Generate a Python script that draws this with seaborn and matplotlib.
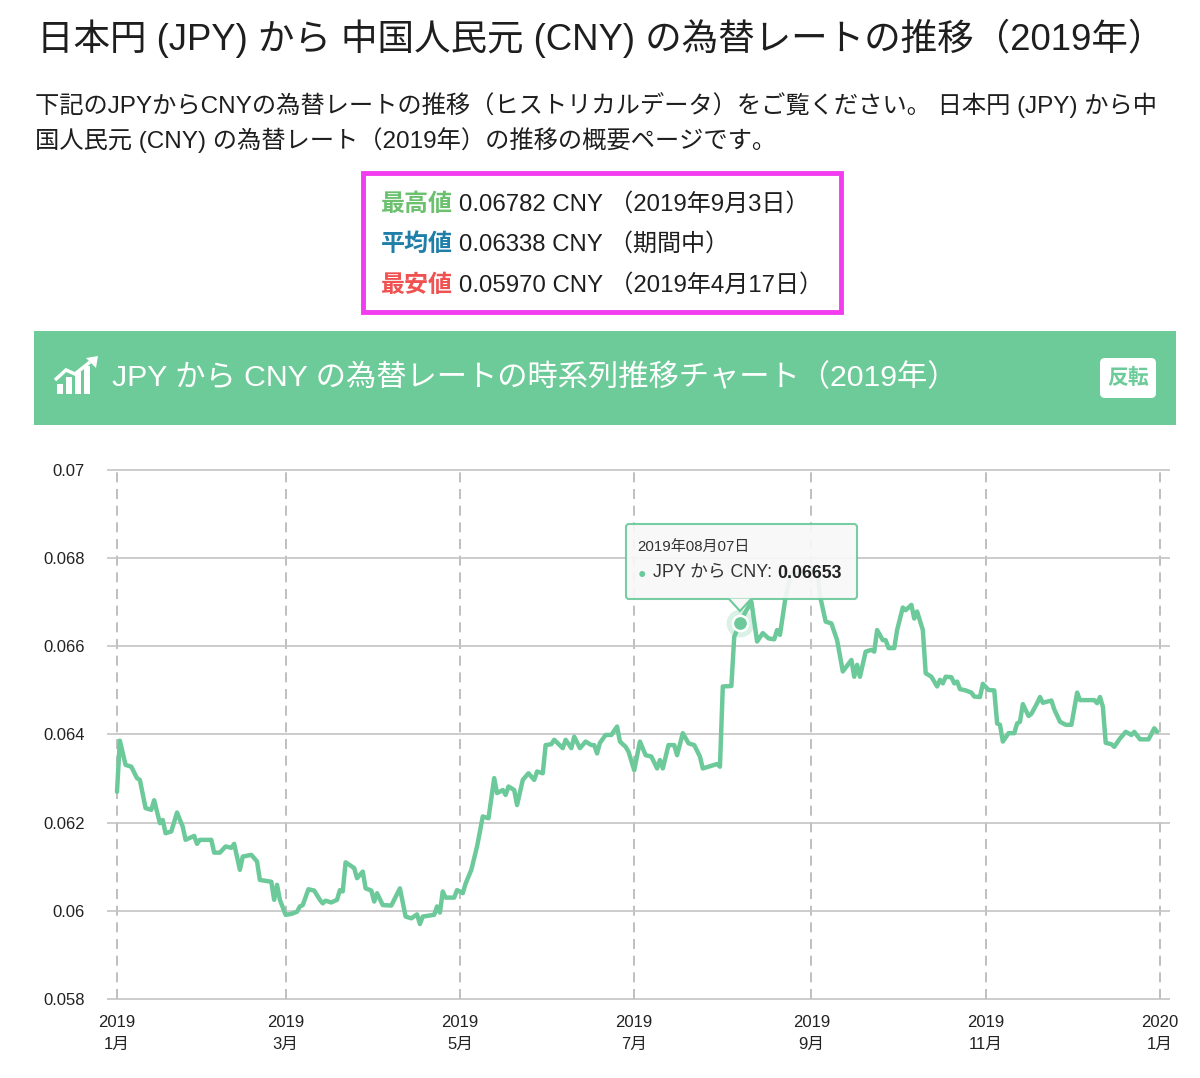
import numpy as np
import pandas as pd
import matplotlib
matplotlib.use("Agg")
import matplotlib.pyplot as plt
import seaborn as sns
from matplotlib.patches import FancyBboxPatch, Rectangle, Polygon
from matplotlib.transforms import Affine2D

# ---------------- data ----------------
dates = [
    "2019-01-01", "2019-01-02", "2019-01-04", "2019-01-06", "2019-01-08", "2019-01-09", "2019-01-11",
    "2019-01-13", "2019-01-14", "2019-01-16", "2019-01-17", "2019-01-18", "2019-01-20", "2019-01-22",
    "2019-01-24", "2019-01-25", "2019-01-28", "2019-01-29", "2019-01-30", "2019-02-03", "2019-02-04",
    "2019-02-06", "2019-02-08", "2019-02-10", "2019-02-11", "2019-02-13", "2019-02-14", "2019-02-17",
    "2019-02-19", "2019-02-20", "2019-02-24", "2019-02-25", "2019-02-26", "2019-02-27", "2019-03-01",
    "2019-03-03", "2019-03-05", "2019-03-06", "2019-03-07", "2019-03-09", "2019-03-11", "2019-03-13",
    "2019-03-14", "2019-03-15", "2019-03-17", "2019-03-19", "2019-03-20", "2019-03-21", "2019-03-22",
    "2019-03-25", "2019-03-26", "2019-03-28", "2019-03-29", "2019-03-31", "2019-04-01", "2019-04-02",
    "2019-04-04", "2019-04-07", "2019-04-10", "2019-04-12", "2019-04-14", "2019-04-16", "2019-04-17",
    "2019-04-18", "2019-04-22", "2019-04-23", "2019-04-24", "2019-04-25", "2019-04-26", "2019-04-29",
    "2019-04-30", "2019-05-02", "2019-05-03", "2019-05-05", "2019-05-07", "2019-05-09", "2019-05-11",
    "2019-05-13", "2019-05-14", "2019-05-16", "2019-05-17", "2019-05-18", "2019-05-20", "2019-05-21",
    "2019-05-23", "2019-05-25", "2019-05-27", "2019-05-28", "2019-05-30", "2019-05-31", "2019-06-02",
    "2019-06-03", "2019-06-06", "2019-06-07", "2019-06-09", "2019-06-10", "2019-06-12", "2019-06-14",
    "2019-06-16", "2019-06-17", "2019-06-18", "2019-06-19", "2019-06-21", "2019-06-23", "2019-06-25",
    "2019-06-26", "2019-06-28", "2019-06-29", "2019-07-01", "2019-07-03", "2019-07-05", "2019-07-07",
    "2019-07-09", "2019-07-10", "2019-07-11", "2019-07-13", "2019-07-15", "2019-07-16", "2019-07-18",
    "2019-07-20", "2019-07-22", "2019-07-24", "2019-07-25", "2019-07-28", "2019-07-30", "2019-07-31",
    "2019-08-01", "2019-08-04", "2019-08-05", "2019-08-07", "2019-08-09", "2019-08-11", "2019-08-13",
    "2019-08-15", "2019-08-17", "2019-08-19", "2019-08-20", "2019-08-21", "2019-08-23", "2019-08-25",
    "2019-08-28", "2019-08-30", "2019-09-03", "2019-09-04", "2019-09-06", "2019-09-08", "2019-09-10",
    "2019-09-12", "2019-09-15", "2019-09-16", "2019-09-17", "2019-09-18", "2019-09-20", "2019-09-22",
    "2019-09-23", "2019-09-24", "2019-09-26", "2019-09-27", "2019-09-28", "2019-09-30", "2019-10-01",
    "2019-10-03", "2019-10-04", "2019-10-06", "2019-10-07", "2019-10-08", "2019-10-10", "2019-10-11",
    "2019-10-13", "2019-10-15", "2019-10-16", "2019-10-17", "2019-10-18", "2019-10-20", "2019-10-21",
    "2019-10-22", "2019-10-23", "2019-10-25", "2019-10-27", "2019-10-28", "2019-10-30", "2019-10-31",
    "2019-11-02", "2019-11-04", "2019-11-05", "2019-11-06", "2019-11-07", "2019-11-09", "2019-11-11",
    "2019-11-12", "2019-11-13", "2019-11-14", "2019-11-16", "2019-11-17", "2019-11-19", "2019-11-20",
    "2019-11-21", "2019-11-24", "2019-11-25", "2019-11-27", "2019-11-29", "2019-12-01", "2019-12-03",
    "2019-12-04", "2019-12-06", "2019-12-09", "2019-12-10", "2019-12-11", "2019-12-12", "2019-12-13",
    "2019-12-15", "2019-12-16", "2019-12-18", "2019-12-20", "2019-12-22", "2019-12-23", "2019-12-25",
    "2019-12-28", "2019-12-30", "2019-12-31",
]
rates = [
    0.06270, 0.06386, 0.06331, 0.06327, 0.06301, 0.06297, 0.06233,
    0.06229, 0.06251, 0.06199, 0.06206, 0.06176, 0.06180, 0.06223,
    0.06191, 0.06161, 0.06170, 0.06152, 0.06161, 0.06161, 0.06132,
    0.06132, 0.06146, 0.06143, 0.06152, 0.06093, 0.06123, 0.06127,
    0.06112, 0.06070, 0.06066, 0.06025, 0.06059, 0.06025, 0.05991,
    0.05993, 0.05998, 0.06010, 0.06013, 0.06049, 0.06046, 0.06025,
    0.06017, 0.06023, 0.06019, 0.06025, 0.06047, 0.06044, 0.06110,
    0.06097, 0.06074, 0.06089, 0.06051, 0.06046, 0.06021, 0.06040,
    0.06013, 0.06012, 0.06051, 0.05987, 0.05983, 0.05992, 0.05970,
    0.05987, 0.05991, 0.06010, 0.05996, 0.06044, 0.06030, 0.06030,
    0.06047, 0.06040, 0.06062, 0.06093, 0.06146, 0.06214, 0.06210,
    0.06301, 0.06267, 0.06274, 0.06263, 0.06282, 0.06274, 0.06240,
    0.06297, 0.06312, 0.06297, 0.06316, 0.06312, 0.06376, 0.06378,
    0.06388, 0.06369, 0.06388, 0.06369, 0.06395, 0.06369, 0.06384,
    0.06376, 0.06376, 0.06357, 0.06381, 0.06399, 0.06399, 0.06418,
    0.06384, 0.06372, 0.06361, 0.06319, 0.06384, 0.06353, 0.06350,
    0.06323, 0.06342, 0.06323, 0.06376, 0.06376, 0.06353, 0.06403,
    0.06380, 0.06376, 0.06350, 0.06323, 0.06329, 0.06333, 0.06327,
    0.06509, 0.06510, 0.06622, 0.06653, 0.06679, 0.06701, 0.06611,
    0.06630, 0.06618, 0.06616, 0.06637, 0.06626, 0.06713, 0.06766,
    0.06762, 0.06766, 0.06782, 0.06715, 0.06656, 0.06652, 0.06614,
    0.06543, 0.06569, 0.06531, 0.06558, 0.06531, 0.06588, 0.06592,
    0.06588, 0.06637, 0.06614, 0.06614, 0.06596, 0.06596, 0.06637,
    0.06688, 0.06682, 0.06694, 0.06663, 0.06679, 0.06637, 0.06539,
    0.06531, 0.06509, 0.06524, 0.06516, 0.06531, 0.06530, 0.06516,
    0.06520, 0.06503, 0.06500, 0.06495, 0.06486, 0.06485, 0.06515,
    0.06501, 0.06500, 0.06425, 0.06422, 0.06384, 0.06403, 0.06403,
    0.06425, 0.06429, 0.06469, 0.06442, 0.06447, 0.06471, 0.06485,
    0.06472, 0.06477, 0.06457, 0.06429, 0.06422, 0.06422, 0.06495,
    0.06478, 0.06478, 0.06478, 0.06471, 0.06485, 0.06463, 0.06381,
    0.06378, 0.06372, 0.06391, 0.06406, 0.06399, 0.06406, 0.06389,
    0.06389, 0.06414, 0.06406,
]
x_tick_dates = ["2019-01-01", "2019-03-01", "2019-05-01", "2019-07-01",
                "2019-09-01", "2019-11-01", "2020-01-01"]
x_tick_labels = ["2019\n1月", "2019\n3月", "2019\n5月", "2019\n7月",
                 "2019\n9月", "2019\n11月", "2020\n1月"]
y_ticks = [0.058, 0.060, 0.062, 0.064, 0.066, 0.068, 0.070]
y_tick_labels = ["0.058", "0.06", "0.062", "0.064", "0.066", "0.068", "0.07"]

title = "日本円 (JPY) から 中国人民元 (CNY) の為替レートの推移（2019年）"
intro_lines = ["下記のJPYからCNYの為替レートの推移（ヒストリカルデータ）をご覧ください。 日本円 (JPY) から中",
               "国人民元 (CNY) の為替レート（2019年）の推移の概要ページです。"]
stat_labels = ["最高値", "平均値", "最安値"]
stat_values = ["0.06782 CNY", "0.06338 CNY", "0.05970 CNY"]
stat_notes = ["（2019年9月3日）", "（期間中）", "（2019年4月17日）"]
chart_title = "JPY から CNY の為替レートの時系列推移チャート（2019年）"
button_label = "反転"
tooltip_date = "2019-08-07"
tooltip_title = "2019年08月07日"
series_name = "JPY から CNY"

# ---------------- style ----------------
sns.set_theme(style="white")
FONTS = ["Liberation Sans", "Noto Sans CJK JP", "DejaVu Sans"]
plt.rcParams["font.family"] = FONTS
plt.rcParams["axes.unicode_minus"] = False

GREEN = "#6ccb98"
LINE = "#6cc99a"
STAT_COLORS = ["#6cc16f", "#1f7fa8", "#f05252"]
W, H = 1200, 1078

fig = plt.figure(figsize=(W / 100, H / 100), dpi=100)
fig.patch.set_facecolor("white")
# pixel transform (top-left origin, like the reference)
PX = Affine2D().scale(1, -1).translate(0, H)

# ---------------- header texts ----------------
fig.text(37, 38, title, transform=PX, fontsize=26.3, color="#1e1e1e", va="center", ha="left")
fig.text(35, 105, intro_lines[0], transform=PX, fontsize=17.5, color="#1e1e1e", va="center", ha="left")
fig.text(35, 140, intro_lines[1], transform=PX, fontsize=17.5, color="#1e1e1e", va="center", ha="left")

# stats box
fig.add_artist(Rectangle((363, 173), 478, 139, transform=PX, facecolor="white",
                         edgecolor="#f23cf0", linewidth=3.5, zorder=1))
fig.canvas.draw()
renderer = fig.canvas.get_renderer()
for i, (lab, val, note) in enumerate(zip(stat_labels, stat_values, stat_notes)):
    y = 204 + i * 40.5
    t = fig.text(381, y, lab, transform=PX, fontsize=17.3, color=STAT_COLORS[i],
                 fontweight="bold", va="center", ha="left", zorder=2)
    bb = t.get_window_extent(renderer)
    fig.text(381 + bb.width + 6, y, val + " " + note, transform=PX, fontsize=17.3,
             color="#1e1e1e", va="center", ha="left", zorder=2)

# green chart header band
fig.add_artist(Rectangle((34, 331), 1142, 94, transform=PX, facecolor=GREEN,
                         edgecolor="none", zorder=1))
fig.text(112, 378, chart_title, transform=PX, fontsize=21.8, color="white",
         va="center", ha="left", zorder=2)
fig.add_artist(FancyBboxPatch((1100, 358), 56, 40, boxstyle="round,pad=0,rounding_size=5",
                              transform=PX, facecolor="white", edgecolor="none", zorder=2))
fig.text(1128, 378, button_label, transform=PX, fontsize=15, color=GREEN,
         fontweight="bold", va="center", ha="center", zorder=3)
# icon (bars + arrow)
for bx, btop in [(57, 384), (66, 377), (75, 372), (84, 366)]:
    fig.add_artist(Rectangle((bx, btop), 6, 394 - btop, transform=PX,
                             facecolor="white", edgecolor="none", zorder=2))
fig.add_artist(Polygon([(55, 380), (66, 370), (75, 374), (90, 362)], closed=False, fill=False,
                       transform=PX, edgecolor="white", linewidth=2.5, zorder=3))
fig.add_artist(Polygon([(86, 358), (98, 356), (96, 368)], closed=True, transform=PX,
                       facecolor="white", edgecolor="none", zorder=3))

# ---------------- chart ----------------
df = pd.DataFrame({"date": pd.to_datetime(dates), "rate": rates})
ax = fig.add_axes([107 / W, 1 - 999 / H, 1063 / W, 529 / H])
ax.set_facecolor("white")
x0 = pd.Timestamp(x_tick_dates[0]) - pd.Timedelta(days=3.5)
x1 = pd.Timestamp(x_tick_dates[-1]) + pd.Timedelta(days=3.5)

ax.hlines(y_ticks, x0, x1, colors="#c4c4c4", linewidth=1.2, clip_on=False, zorder=1)
sns.lineplot(data=df, x="date", y="rate", ax=ax, color=LINE, linewidth=3.2, zorder=3)

ax.set_xlim(x0, x1)
ax.set_ylim(y_ticks[0], y_ticks[-1])
ax.set_xticks(pd.to_datetime(x_tick_dates))
ax.set_xticklabels(x_tick_labels, fontsize=12, color="#222222", linespacing=1.55)
ax.set_yticks(y_ticks)
ax.set_yticklabels(y_tick_labels, fontsize=12, color="#222222")
ax.xaxis.grid(True, color="#b4b4b4", linewidth=1.2, linestyle=(0, (6, 4)), zorder=1)
ax.yaxis.grid(False)
ax.tick_params(axis="x", length=4.5, width=1.2, color="#b4b4b4", pad=7)
ax.tick_params(axis="y", length=0, pad=16)
ax.set_xlabel("")
ax.set_ylabel("")
for s in ax.spines.values():
    s.set_visible(False)

# tooltip marker
tip_x = pd.Timestamp(tooltip_date)
tip_y = df.loc[df["date"] == tip_x, "rate"].iloc[0]
ax.scatter([tip_x], [tip_y], s=400, color=LINE, alpha=0.25, linewidth=0, zorder=4, clip_on=False)
ax.scatter([tip_x], [tip_y], s=120, color=LINE, edgecolor="white", linewidth=1.8, zorder=5, clip_on=False)

# tooltip box
fig.add_artist(FancyBboxPatch((626, 524), 231, 75, boxstyle="round,pad=0,rounding_size=3",
                              transform=PX, facecolor="#f8f8f8", alpha=0.92,
                              edgecolor=LINE, linewidth=1.5, zorder=10))
fig.add_artist(Polygon([(729, 598.5), (740, 611), (751, 598.5)], closed=True, transform=PX,
                       facecolor="#f8f8f8", edgecolor="none", zorder=11))
fig.add_artist(Polygon([(729, 599), (740, 611), (751, 599)], closed=False, fill=False,
                       transform=PX, edgecolor=LINE, linewidth=1.5, zorder=11))
fig.text(637, 547, tooltip_title, transform=PX, fontsize=10.8, color="#333333",
         va="center", ha="left", zorder=12)
fig.text(642, 574, "●", transform=PX, fontsize=10, color=LINE, va="center", ha="center", zorder=12)
t1 = fig.text(653, 573, f"{series_name}: ", transform=PX, fontsize=12.8, color="#333333",
              va="center", ha="left", zorder=12)
bb = t1.get_window_extent(renderer)
fig.text(653 + bb.width, 573, f"{tip_y:.5f}", transform=PX, fontsize=12.8, color="#222222",
         fontweight="bold", va="center", ha="left", zorder=12)

fig.savefig("out.png", dpi=100, facecolor="white")
